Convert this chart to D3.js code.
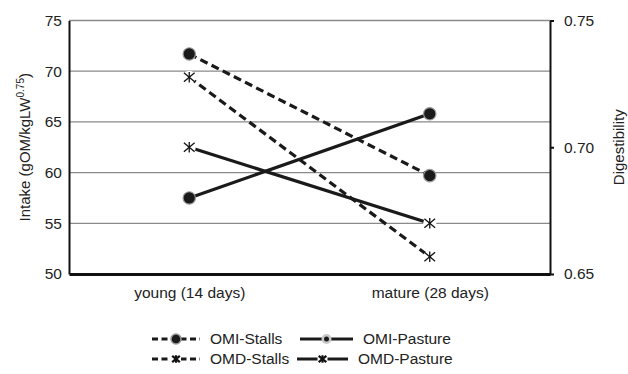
<!DOCTYPE html>
<html><head><meta charset="utf-8">
<script src="https://cdn.jsdelivr.net/npm/d3@7"></script>
<style>body{margin:0;background:#fff}svg{display:block;font-family:"Liberation Sans",Arial,sans-serif}</style>
</head><body>
<svg id="c" width="628" height="374"></svg>
<script>
const categories = ["young (14 days)", "mature (28 days)"];
const omiStalls = [71.7, 59.7];
const omiPasture = [57.5, 65.8];
const omdStalls = [0.7276, 0.6568];
const omdPasture = [0.700, 0.670];
const leftTicks = [50, 55, 60, 65, 70, 75];
const rightTicks = [0.65, 0.70, 0.75];

const svg = d3.select("#c");
const L = 69, R = 550, T = 20.5, B = 274;
const FS = 15.5;
const x = d3.scalePoint().domain(categories).range([L, R]).padding(0.5);
const yL = d3.scaleLinear().domain([50, 75]).range([B, T]);
const yR = d3.scaleLinear().domain([0.65, 0.75]).range([B, T]);

// gridlines
svg.append("g").selectAll("line").data(leftTicks.slice(1)).join("line")
  .attr("x1", L).attr("x2", R).attr("y1", d => yL(d)).attr("y2", d => yL(d))
  .attr("stroke", "#8a8a8a").attr("stroke-width", 1.3);

// left axis
const gl = svg.append("g").attr("transform", `translate(${L},0)`)
  .call(d3.axisLeft(yL).tickValues(leftTicks).tickSize(0).tickPadding(7).tickFormat(d3.format("d")));
gl.select(".domain").attr("stroke", "#111").attr("stroke-width", 2);
gl.selectAll("text").attr("font-size", FS).attr("fill", "#222");

// right axis
const gr = svg.append("g").attr("transform", `translate(${R},0)`)
  .call(d3.axisRight(yR).tickValues(rightTicks).tickSize(4).tickPadding(10).tickSizeOuter(0).tickFormat(d3.format(".2f")));
gr.select(".domain").attr("stroke", "#111").attr("stroke-width", 2);
gr.selectAll(".tick line").attr("stroke", "#111").attr("stroke-width", 2);
gr.selectAll("text").attr("font-size", FS).attr("fill", "#222");

// bottom axis
const gb = svg.append("g").attr("transform", `translate(0,${B})`)
  .call(d3.axisBottom(x).tickSize(0).tickPadding(13));
gb.select(".domain").attr("stroke", "#111").attr("stroke-width", 3);
gb.selectAll("text").attr("font-size", FS).attr("fill", "#222");

// axis titles
svg.append("text").attr("transform", `translate(30,${(T+B)/2}) rotate(-90)`)
  .attr("text-anchor", "middle").attr("font-size", 15).attr("fill", "#222")
  .html('Intake (gOM/kgLW<tspan dy="-6" font-size="10">0.75</tspan><tspan dy="6">)</tspan>');
svg.append("text").attr("transform", `translate(624,${(T+B)/2}) rotate(-90)`)
  .attr("text-anchor", "middle").attr("font-size", 15).attr("fill", "#222").text("Digestibility");

const series = [
  {name: "OMI-Stalls", vals: omiStalls, y: yL, dash: true, mark: "circle"},
  {name: "OMI-Pasture", vals: omiPasture, y: yL, dash: false, mark: "circle"},
  {name: "OMD-Stalls", vals: omdStalls, y: yR, dash: true, mark: "star"},
  {name: "OMD-Pasture", vals: omdPasture, y: yR, dash: false, mark: "star"}
];
const line = d3.line();
function drawStar(g, cx, cy, s, w) {
  const a = 40 * Math.PI / 180, c = Math.cos(a), n = Math.sin(a);
  const pts = [[0,-s*0.75,0,s*0.75],[-s*c,-s*n,s*c,s*n],[-s*c,s*n,s*c,-s*n]];
  g.selectAll(null).data(pts).join("line")
    .attr("x1", d => cx+d[0]).attr("y1", d => cy+d[1]).attr("x2", d => cx+d[2]).attr("y2", d => cy+d[3])
    .attr("stroke", "#111").attr("stroke-width", w);
}
series.forEach(s => {
  const pts = categories.map((c, i) => [x(c), s.y(s.vals[i])]);
  svg.append("path").attr("d", line(pts)).attr("fill", "none").attr("stroke", "#1a1a1a")
    .attr("stroke-width", 3.2).attr("stroke-dasharray", s.dash ? "8,4.5" : null);
});
series.forEach(s => {
  const pts = categories.map((c, i) => [x(c), s.y(s.vals[i])]);
  const g = svg.append("g");
  pts.forEach(p => {
    if (s.mark === "circle") {
      g.append("circle").attr("cx", p[0]).attr("cy", p[1]).attr("r", 6.2)
        .attr("fill", "#1a1a1a").attr("stroke", "#9a9a9a").attr("stroke-width", 1.2);
    } else {
      g.append("circle").attr("cx", p[0]).attr("cy", p[1]).attr("r", 6.5).attr("fill", "#fff");
      drawStar(g, p[0], p[1], 7, 1.3);
    }
  });
});

// legend
const leg = [
  {s: series[0], x0: 152, x1: 200, tx: 210, y: 339},
  {s: series[1], x0: 300, x1: 353, tx: 363, y: 339},
  {s: series[2], x0: 152, x1: 200, tx: 210, y: 359},
  {s: series[3], x0: 297, x1: 348, tx: 358, y: 359}
];
leg.forEach(l => {
  const g = svg.append("g");
  g.append("line").attr("x1", l.x0).attr("x2", l.x1).attr("y1", l.y).attr("y2", l.y)
    .attr("stroke", "#1a1a1a").attr("stroke-width", 3)
    .attr("stroke-dasharray", l.s.dash ? "6,3.5" : null);
  const cx = (l.x0 + l.x1) / 2;
  if (l.s.mark === "circle") {
    if (l.s.dash) {
      g.append("circle").attr("cx", cx).attr("cy", l.y).attr("r", 5).attr("fill", "#1a1a1a").attr("stroke", "#999").attr("stroke-width", 1.5);
    } else {
      g.append("circle").attr("cx", cx).attr("cy", l.y).attr("r", 5).attr("fill", "#c8c8c8");
      g.append("circle").attr("cx", cx).attr("cy", l.y).attr("r", 2.5).attr("fill", "#1a1a1a");
    }
  } else {
    g.append("rect").attr("x", cx-5).attr("y", l.y-5).attr("width", 10).attr("height", 10).attr("fill", "#fff");
    drawStar(g, cx, l.y, 5, 2.2);
  }
  g.append("text").attr("x", l.tx).attr("y", l.y).attr("dy", "0.35em")
    .attr("font-size", FS).attr("fill", "#222").text(l.s.name);
});
</script>
</body></html>
